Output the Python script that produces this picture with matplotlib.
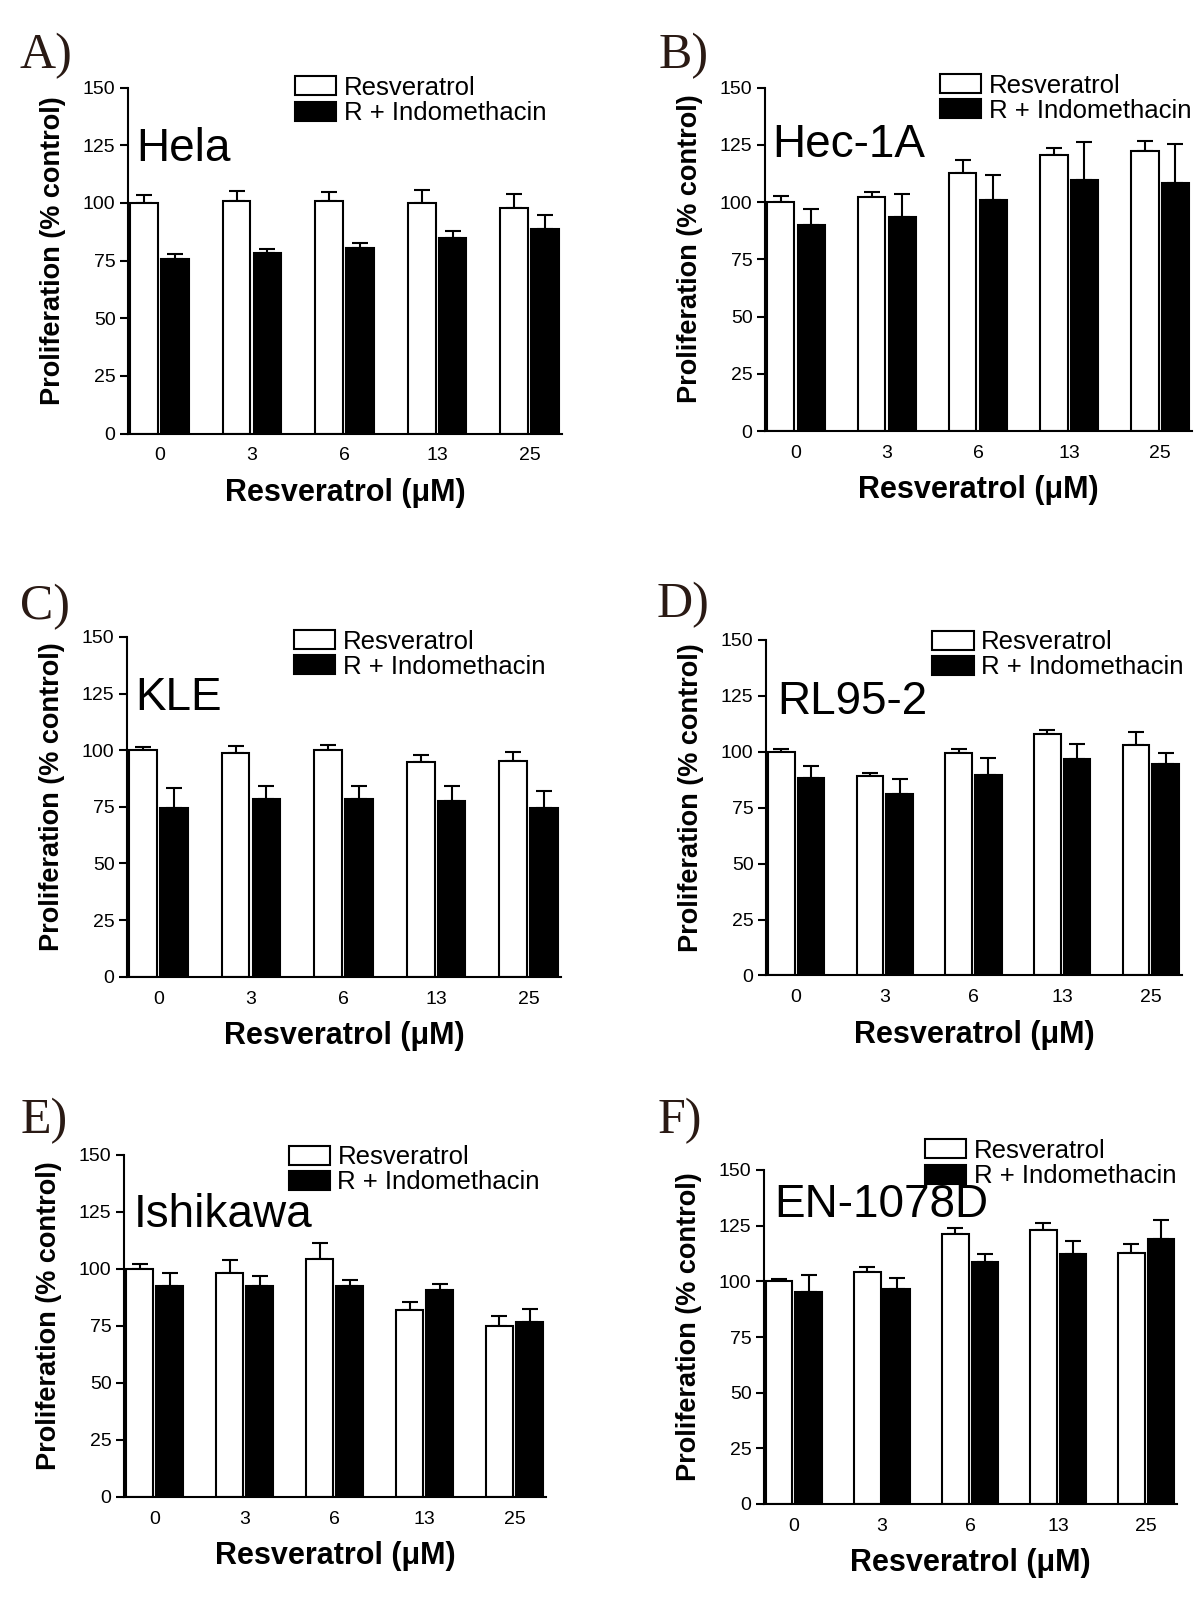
import numpy as np
import matplotlib
matplotlib.use("Agg")
import matplotlib.pyplot as plt
from matplotlib.patches import Patch

plt.rcParams['font.family'] = ['Liberation Sans', 'DejaVu Sans']

# datos
dosis = ['0', '3', '6', '13', '25']
letras = ['A)', 'B)', 'C)', 'D)', 'E)', 'F)']
lineas = ['Hela', 'Hec-1A', 'KLE', 'RL95-2', 'Ishikawa', 'EN-1078D']

hela_res = [100, 100.7, 101, 100, 97.9]
hela_res_err = [3.5, 4.7, 3.6, 5.6, 6.0]
hela_ind = [75.6, 78.2, 80.5, 84.7, 88.6]
hela_ind_err = [2.3, 1.9, 2.3, 3.0, 6.0]

hec_res = [100, 102.4, 112.9, 120.7, 122.5]
hec_res_err = [2.8, 2.2, 5.5, 3.1, 4.2]
hec_ind = [89.9, 93.6, 100.8, 109.7, 108.3]
hec_ind_err = [7.0, 10.1, 11.2, 16.6, 17.2]

kle_res = [100, 98.7, 100.2, 95.0, 95.3]
kle_res_err = [1.5, 3.3, 1.9, 2.7, 4.1]
kle_ind = [74.4, 78.4, 78.4, 77.6, 74.4]
kle_ind_err = [9.1, 5.7, 5.9, 6.6, 7.8]

rl_res = [100, 89.4, 99.4, 107.9, 103.1]
rl_res_err = [1.3, 1.0, 1.9, 1.8, 5.8]
rl_ind = [88.5, 81.0, 89.5, 96.8, 94.4]
rl_ind_err = [5.1, 6.9, 7.6, 6.9, 5.3]

ish_res = [100, 98.0, 104.5, 82.1, 74.8]
ish_res_err = [2.0, 6.0, 6.9, 3.5, 4.4]
ish_ind = [92.6, 92.6, 92.3, 90.6, 76.8]
ish_ind_err = [5.7, 4.4, 2.8, 2.6, 5.6]

en_res = [100, 104.1, 121.4, 123.1, 112.6]
en_res_err = [1.0, 2.2, 2.4, 3.3, 4.2]
en_ind = [95.4, 96.5, 108.6, 112.5, 118.9]
en_ind_err = [7.5, 4.8, 3.7, 5.4, 8.5]

datos = [
    (hela_res, hela_res_err, hela_ind, hela_ind_err),
    (hec_res, hec_res_err, hec_ind, hec_ind_err),
    (kle_res, kle_res_err, kle_ind, kle_ind_err),
    (rl_res, rl_res_err, rl_ind, rl_ind_err),
    (ish_res, ish_res_err, ish_ind, ish_ind_err),
    (en_res, en_res_err, en_ind, en_ind_err),
]

# ===============================
# layout (pixeles: izq, der, arriba(150), abajo(0))
# ===============================
W, H = 1200, 1614
cajas = [
    (128, 562, 87.7, 433.5),
    (765, 1192, 87.7, 431),
    (127, 561, 637, 976.7),
    (766, 1182, 640, 975.5),
    (124, 546, 1155, 1496.7),
    (764, 1177, 1170, 1504),
]
letra_pos = [(20, 68), (659, 68), (20, 619), (657, 617), (21, 1133), (658, 1133)]
etiqueta_pos = [(0.02, 118), (0.016, 119.8), (0.02, 117.8), (0.026, 116.9), (0.024, 118.4), (0.024, 128.7)]
leyenda_pos = [(0.385, 1.034), (0.41, 1.041), (0.385, 1.022), (0.40, 1.029), (0.39, 1.029), (0.39, 1.093)]

fig = plt.figure(figsize=(W / 100, H / 100), dpi=100)

x = np.arange(len(dosis))
ancho = 0.3
sep = 0.167

for i in range(6):
    izq, der, arr, abj = cajas[i]
    ax = fig.add_axes([izq / W, 1 - abj / H, (der - izq) / W, (abj - arr) / H])
    res, res_err, ind, ind_err = datos[i]

    ax.bar(x - sep, res, ancho, color='white', edgecolor='black', linewidth=1.5,
           label='Resveratrol', zorder=2)
    ax.bar(x + sep, ind, ancho, color='black', edgecolor='black', linewidth=1.5,
           label='R + Indomethacin', zorder=2)
    ax.errorbar(x - sep, res, yerr=[np.zeros(5), res_err], fmt='none', ecolor='black',
                elinewidth=1.5, capsize=5.5, capthick=1.5, zorder=1)
    ax.errorbar(x + sep, ind, yerr=[np.zeros(5), ind_err], fmt='none', ecolor='black',
                elinewidth=1.5, capsize=5.5, capthick=1.5, zorder=1)

    ax.set_xlim(-0.34, 4.35)
    ax.set_ylim(0, 150)
    ax.set_yticks([0, 25, 50, 75, 100, 125, 150])
    ax.set_xticks(x)
    ax.set_xticklabels(dosis)
    ax.tick_params(axis='y', direction='out', length=6, width=1.5, labelsize=14, pad=3)
    ax.tick_params(axis='x', length=0, labelsize=14, pad=10)
    for s in ['top', 'right']:
        ax.spines[s].set_visible(False)
    for s in ['left', 'bottom']:
        ax.spines[s].set_linewidth(1.5)

    axw = der - izq
    axh = abj - arr
    ax.set_ylabel('Proliferation (% control)', fontsize=19.5, fontweight='bold')
    ax.yaxis.set_label_coords(-62 / axw, 0.53)
    ax.set_xlabel('Resveratrol (\u03bcM)', fontsize=22, fontweight='bold')
    ax.xaxis.label.set_va('center')
    ax.xaxis.set_label_coords(0.5, -59 / axh)

    ax.text(etiqueta_pos[i][0], etiqueta_pos[i][1], lineas[i], fontsize=33,
            transform=ax.get_yaxis_transform(), ha='left', va='baseline')

    manejos = [Patch(facecolor='white', edgecolor='black', linewidth=1.5),
               Patch(facecolor='black', edgecolor='black', linewidth=1.5)]
    ax.legend(manejos, ['Resveratrol', 'R + Indomethacin'], loc='upper left',
              bbox_to_anchor=leyenda_pos[i], frameon=False, fontsize=18.5,
              handlelength=1.6, handleheight=0.76, handletextpad=0.3,
              labelspacing=0.04, borderpad=0, borderaxespad=0)

    fig.text(letra_pos[i][0] / W, 1 - letra_pos[i][1] / H, letras[i], fontsize=36,
             family='Liberation Serif', color='#2a1a14', ha='left', va='baseline')

plt.savefig('out.png', dpi=100)
